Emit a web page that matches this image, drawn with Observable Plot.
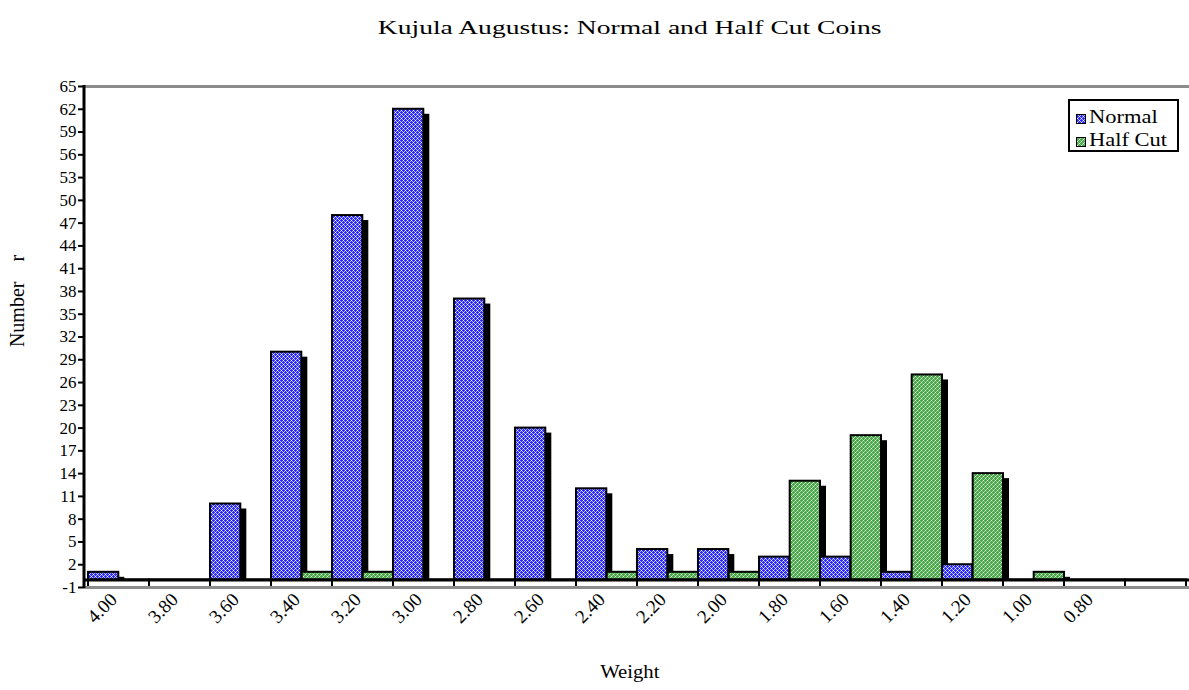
<!DOCTYPE html>
<html>
<head>
<meta charset="utf-8">
<script src="https://cdn.jsdelivr.net/npm/d3@7"></script>
<script src="https://cdn.jsdelivr.net/npm/@observablehq/plot@0.6"></script>
<style>
  body { margin: 0; background: #fff; font-family: "Liberation Serif", "Times New Roman", serif; }
  #wrap { position: relative; width: 1189px; height: 690px; overflow: hidden; background: #fff; }
  #title { position: absolute; left: 0; top: 17px; width: 1189px; text-align: center; font-size: 19px; line-height: 22px; color: #000; }
  #title span { display: inline-block; transform: scaleX(1.45); transform-origin: center; margin-left: 71px; }
  #chart { position: absolute; left: 0; top: 50px; }
  .lbl { position: absolute; font-size: 18px; line-height: 20px; color: #000; white-space: pre; }
  #xlabel { left: 580px; top: 662px; width: 100px; text-align: center; }
  #xlabel span { display: inline-block; transform: scaleX(1.15); }
  #ylabel { left: -53px; top: 291px; width: 140px; text-align: center; transform: rotate(-90deg); font-size: 20px; }
  #legend { position: absolute; left: 1068px; top: 99px; width: 107px; height: 49px; border: 2px solid #000; background: #fff; font-size: 18px; }
  .item { position: absolute; left: 6px; height: 20px; line-height: 20px; white-space: nowrap; }
  .item svg { vertical-align: -1px; }
  .item span { display: inline-block; transform: scaleX(1.25); transform-origin: left center; margin-left: 3px; }
</style>
</head>
<body>
<svg width="0" height="0" style="position:absolute">
  <defs>
    <pattern id="pBlue" width="4" height="4" patternUnits="userSpaceOnUse">
      <rect width="4" height="4" fill="#2a2aff"/>
      <rect x="1" y="0" width="1" height="1" fill="#ffffff"/>
      <rect x="3" y="2" width="1" height="1" fill="#ffffff"/>
      <rect x="0" y="1" width="1" height="1" fill="#b0b0ff"/>
      <rect x="2" y="1" width="1" height="1" fill="#b0b0ff"/>
      <rect x="0" y="3" width="1" height="1" fill="#b0b0ff"/>
      <rect x="2" y="3" width="1" height="1" fill="#b0b0ff"/>
    </pattern>
    <pattern id="pGreen" width="4" height="4" patternUnits="userSpaceOnUse">
      <rect width="4" height="4" fill="#42a642"/>
      <rect x="1" y="0" width="1" height="1" fill="#ffffff"/>
      <rect x="3" y="2" width="1" height="1" fill="#ffffff"/>
      <rect x="0" y="1" width="1" height="1" fill="#aadcaa"/>
      <rect x="2" y="3" width="1" height="1" fill="#aadcaa"/>
      <rect x="2" y="1" width="1" height="1" fill="#80c480"/>
      <rect x="0" y="3" width="1" height="1" fill="#80c480"/>
    </pattern>
  </defs>
</svg>
<div id="wrap">
  <div id="title"><span>Kujula Augustus: Normal and Half Cut Coins</span></div>
  <div id="chart"></div>
  <div class="lbl" id="xlabel"><span>Weight</span></div>
  <div class="lbl" id="ylabel">Number    r</div>
  <div id="legend">
    <div class="item" style="top:6px"><svg width="10" height="10"><rect x="0.5" y="0.5" width="9" height="9" fill="url(#pBlue)" stroke="#000"/></svg><span>Normal</span></div>
    <div class="item" style="top:29px"><svg width="10" height="10"><rect x="0.5" y="0.5" width="9" height="9" fill="url(#pGreen)" stroke="#000"/></svg><span>Half Cut</span></div>
  </div>
</div>
<script>
const weights = ["4.00","3.80","3.60","3.40","3.20","3.00","2.80","2.60","2.40","2.20","2.00","1.80","1.60","1.40","1.20","1.00","0.80",""];
const normal  = [1, 0, 10, 30, 48, 62, 37, 20, 12, 4, 4, 3, 3, 1, 2, 0, 0, 0];
const halfCut = [0, 0, 0, 1, 1, 0, 0, 0, 1, 1, 1, 13, 19, 27, 14, 1, 0, 0];
const yTicks  = [-1, 2, 5, 8, 11, 14, 17, 20, 23, 26, 29, 32, 35, 38, 41, 44, 47, 50, 53, 56, 59, 62, 65];

const rows = weights.map((w, i) => ({weight: w, normal: normal[i], half: halfCut[i]}));

const W = 1189, ML = 84, MR = 0;
const bw = (W - ML - MR) / weights.length;

const yAxisLine = (index, scales, values, dims) => {
  const l = document.createElementNS("http://www.w3.org/2000/svg", "line");
  l.setAttribute("x1", dims.marginLeft); l.setAttribute("x2", dims.marginLeft);
  l.setAttribute("y1", scales.y(yTicks[yTicks.length - 1]) - 1);
  l.setAttribute("y2", scales.y(yTicks[0]) + 1);
  l.setAttribute("stroke", "#000"); l.setAttribute("stroke-width", 3);
  return l;
};

const chart = Plot.plot({
  width: W,
  height: 640,
  marginLeft: ML,
  marginRight: MR,
  marginTop: 36,
  marginBottom: 103,
  style: {fontFamily: "'Liberation Serif', 'Times New Roman', serif", fontSize: "19px", color: "#000", background: "#fff", overflow: "hidden"},
  x: {type: "band", domain: weights, padding: 0},
  y: {domain: [yTicks[0], yTicks[yTicks.length - 1]]},
  marks: [
    Plot.barY(weights, {x: d => d, y1: yTicks[0], y2: 0, fill: "none", stroke: "#000", strokeWidth: 2}),
    Plot.ruleY([yTicks[0]], {stroke: "#8c8c8c", strokeWidth: 3}),
    Plot.ruleY([yTicks[yTicks.length - 1]], {stroke: "#8c8c8c", strokeWidth: 3}),
    Plot.barY(rows.filter(d => d.normal > 0), {x: "weight", y1: 0, y2: "normal", insetRight: bw / 2, insetTop: 5, dx: 6, fill: "#000"}),
    Plot.barY(rows.filter(d => d.half > 0), {x: "weight", y1: 0, y2: "half", insetLeft: bw / 2, insetTop: 5, dx: 6, fill: "#000"}),
    Plot.barY(rows.filter(d => d.normal > 0), {x: "weight", y1: 0, y2: "normal", insetRight: bw / 2, fill: "url(#pBlue)", stroke: "#000", strokeWidth: 2}),
    Plot.barY(rows.filter(d => d.half > 0), {x: "weight", y1: 0, y2: "half", insetLeft: bw / 2, fill: "url(#pGreen)", stroke: "#000", strokeWidth: 2}),
    Plot.ruleY([0], {stroke: "#000", strokeWidth: 3}),
    Plot.axisY({ticks: yTicks, tickSize: 6, strokeWidth: 2, tickFormat: () => "", label: null}),
    Plot.text(yTicks, {y: d => d, text: d => String(d), frameAnchor: "left", textAnchor: "end", dx: -8, fontSize: 17, fill: "#000", fontFamily: "Liberation Serif"}),
    Plot.axisX({tickSize: 0, tickRotate: -45, tickPadding: 9, dx: -5, label: null, fontSize: 19, fill: "#000"}),
    yAxisLine
  ]
});
document.getElementById("chart").appendChild(chart);
</script>
</body>
</html>
